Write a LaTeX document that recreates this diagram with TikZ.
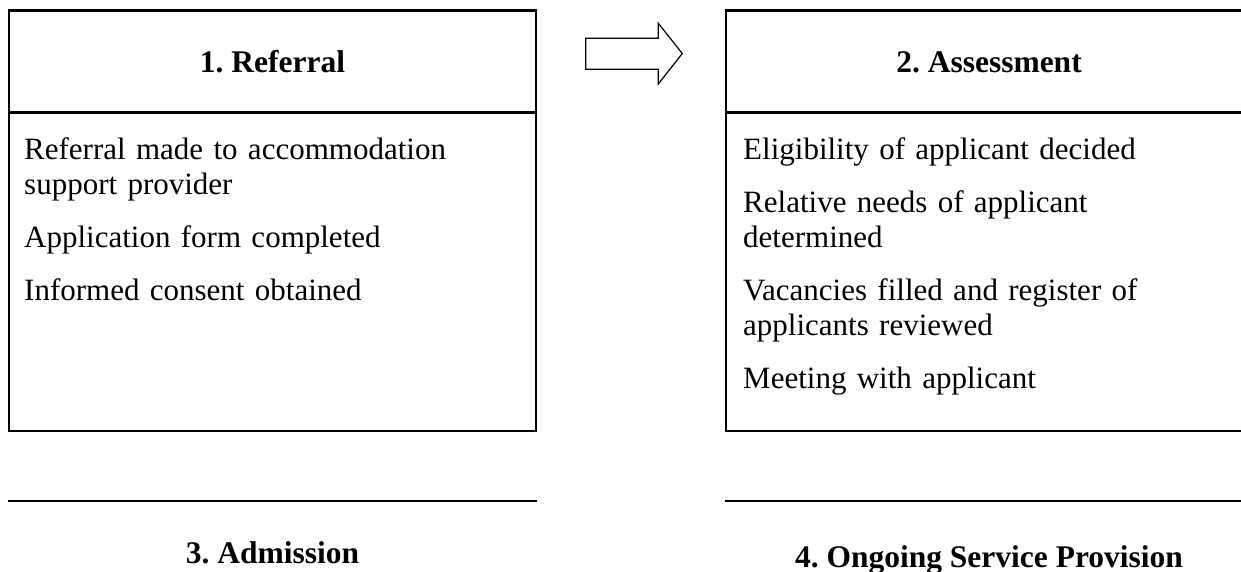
\documentclass[tikz,border=0pt]{standalone}
\usepackage{fontspec}
\setmainfont{Liberation Serif}
\frenchspacing
\begin{document}
\begin{tikzpicture}[x=1pt,y=-1pt,
  frame/.style={draw=black, line width=2.5pt, inner sep=0pt},
  divider/.style={draw=black, line width=2.5pt},
  rule/.style={draw=black, line width=2.7pt},
  head/.style={font=\fontsize{31.5}{36}\selectfont\bfseries\frenchspacing, anchor=base, inner sep=0pt},
  body/.style={font=\fontsize{31}{35.3}\selectfont, anchor=base west, inner sep=0pt, text width=500pt, align=left},
  blockarrow/.style={draw=black, line width=1.2pt, line join=miter}]
\clip (0,0) rectangle (1241,572);
\useasboundingbox (0,0) rectangle (1241,572);
% stage boxes
\node[frame, minimum width=527pt, minimum height=420.3pt] (box1) at (272.5,220.85) {};
\node[frame, minimum width=526pt, minimum height=420.3pt] (box2) at (989,220.85) {};
\coordinate (d1) at (0,112.3);
\draw[divider] (box1.west |- d1) -- (box1.east |- d1);
\draw[divider] (box2.west |- d1) -- (box2.east |- d1);
% lower boxes (only their top borders are visible)
\coordinate (r) at (0,501);
\draw[rule] (box1.west |- r) -- (box1.east |- r);
\draw[rule] (box2.west |- r) -- (box2.east |- r);
% headings
\node[head] (h1) at (272.5,72.7) {1. Referral};
\node[head] (h2) at (989,72.7) {2. Assessment};
\node[head] (h3) at (272.5,563.5) {3. Admission};
\node[head] (h4) at (989,567.5) {4. Ongoing Service Provision};
% body texts
\node[body] (t1) at (24,159.3) {Referral made to accommodation\\support provider\\[17.5pt]Application form completed\\[17.5pt]Informed consent obtained};
\node[body] (t2) at (743,159.3) {Eligibility of applicant decided\\[17.5pt]Relative needs of applicant\\determined\\[17.5pt]Vacancies filled and register of\\applicants reviewed\\[17.5pt]Meeting with applicant};
% block arrow
\draw[blockarrow] (585.7,38.3) -- (658.3,38.3) -- (658.3,23.3) -- (682.3,53.5) -- (658.3,84) -- (658.3,69.3) -- (585.7,69.3) -- cycle;
\end{tikzpicture}
\end{document}
